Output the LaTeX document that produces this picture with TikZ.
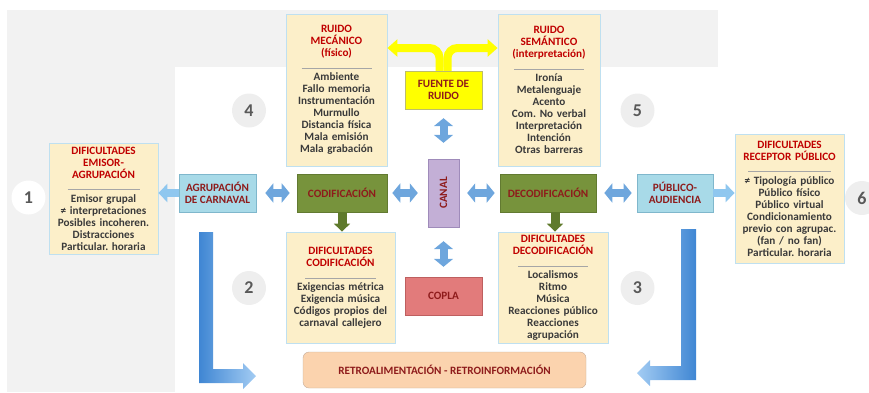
\documentclass[tikz,border=0pt]{standalone}
\usepackage{fontspec}
\setmainfont{Carlito}
\usepackage{xcolor}
\usepackage{graphicx}
\usepackage{tikz}
\usetikzlibrary{arrows.meta, shadings}
\frenchspacing

\definecolor{cream}{HTML}{FCEFC9}
\definecolor{paleblue}{HTML}{BFE0F0}
\definecolor{titlered}{HTML}{C00000}
\definecolor{labelred}{HTML}{8E1B1B}
\definecolor{bodygray}{HTML}{3A3A3A}
\definecolor{rulegray}{HTML}{A6A6A6}
\definecolor{bggray}{HTML}{F2F2F2}
\definecolor{circgray}{HTML}{EEEEEE}
\definecolor{numgray}{HTML}{595959}
\definecolor{tagblue}{HTML}{A8DAE8}
\definecolor{tagedge}{HTML}{7FB7CC}
\definecolor{codgreen}{HTML}{77933C}
\definecolor{codedge}{HTML}{627A31}
\definecolor{arrowgreen}{HTML}{5F7A2C}
\definecolor{canalpurple}{HTML}{C3AFD6}
\definecolor{canaledge}{HTML}{9F8BBA}
\definecolor{coplared}{HTML}{E27B7B}
\definecolor{coplaedge}{HTML}{BE5F5F}
\definecolor{noiseyellow}{HTML}{FFFF00}
\definecolor{noiseedge}{HTML}{BDBD6A}
\definecolor{retropeach}{HTML}{FBD3AE}
\definecolor{retroedge}{HTML}{C3AC9A}
\definecolor{linkblue}{HTML}{6EA6DD}
\definecolor{sideblue}{HTML}{8FC7EF}
\definecolor{feeddark}{HTML}{3F86D3}
\definecolor{feedlight}{HTML}{A3CCF3}

\tikzset{
    every node/.style = {font = \bfseries\fontsize{11.2}{12}\selectfont},
    difbox/.style = {draw = paleblue, fill = cream, line width = .8pt, align = center, text = titlered, inner sep = 0pt},
    tagbox/.style = {draw = tagedge, fill = tagblue, line width = .6pt, align = center, text = labelred, minimum width = 77pt, minimum height = 38pt},
    codbox/.style = {draw = codedge, fill = codgreen, line width = .6pt, text = labelred, minimum height = 38pt},
    numcircle/.style = {circle, fill = circgray, text = numgray, minimum size = 34pt, inner sep = 0pt, font = \bfseries\fontsize{18}{18}\selectfont},
    linkarrow/.style = {draw = linkblue, line width = 8pt, {Triangle[width = 19pt, length = 8pt]}-{Triangle[width = 19pt, length = 8pt]}},
    sidearrow/.style = {draw = sideblue, line width = 8pt, -{Triangle[width = 18pt, length = 9pt]}},
    downarrow/.style = {draw = arrowgreen, line width = 9pt, -{Triangle[width = 16pt, length = 8pt]}},
    noisearrow/.style = {draw = noiseyellow, line width = 8pt, rounded corners = 10pt, -{Triangle[width = 17pt, length = 10pt]}},
}

\newcommand{\seprule}[1]{{\color{rulegray}\rule{#1}{.7pt}}}

\begin{document}
\begin{tikzpicture}[x = 1pt, y = -1pt]
    \useasboundingbox (0, 0) rectangle (869, 392);

    \fill [bggray] (7, 10) rectangle (718, 67);
    \fill [bggray] (7, 67) rectangle (175, 392);

    \shade [left color = feeddark, right color = feedlight] (199, 232) -- (213, 232) -- (213, 369) -- (243, 369) -- (243, 363) -- (256, 376) -- (243, 389) -- (243, 383) -- (199, 383) -- cycle;
    \shade [left color = feedlight, right color = feeddark] (681, 229) -- (696, 229) -- (696, 380) -- (650, 380) -- (650, 386) -- (637, 373) -- (650, 360) -- (650, 366) -- (681, 366) -- cycle;

    \node [numcircle, fill = white] (n1) at (28.5, 197.5) {1};
    \node [numcircle] (n2) at (249, 288) {2};
    \node [numcircle] (n3) at (637.5, 288) {3};
    \node [numcircle] (n4) at (249, 110.5) {4};
    \node [numcircle] (n5) at (637.5, 110.5) {5};
    \node [numcircle] (n6) at (862, 198) {6};

    \node [difbox, text width = 101pt, minimum height = 152pt] (mecan) at (336.5, 90) {RUIDO\\MECÁNICO\\(físico)\\ \seprule{70pt}\\ \color{bodygray}Ambiente\\Fallo memoria\\Instrumentación\\Murmullo\\Distancia física\\Mala emisión\\Mala grabación};
    \node [difbox, text width = 102pt, minimum height = 152pt] (seman) at (549, 90) {RUIDO\\SEMÁNTICO\\(interpretación)\\ \seprule{70pt}\\ \color{bodygray}Ironía\\Metalenguaje\\Acento\\Com. No verbal\\Interpretación\\Intención\\Otras barreras};
    \node [difbox, text width = 109pt, minimum height = 111pt] (emisor) at (103.5, 198.5) {DIFICULTADES\\EMISOR-\\AGRUPACIÓN\\ \seprule{72pt}\\ \color{bodygray}Emisor grupal\\≠ interpretaciones\\Posibles incoheren.\\Distracciones\\Particular. horaria};
    \node [difbox, text width = 109pt, minimum height = 129pt] (receptor) at (789.5, 198.5) {DIFICULTADES\\RECEPTOR PÚBLICO\\ \seprule{83pt}\\ \color{bodygray}≠ Tipología público\\Público físico\\Público virtual\\Condicionamiento\\previo con agrupac.\\(fan / no fan)\\Particular. horaria};
    \node [difbox, text width = 109pt, minimum height = 111pt] (difcod) at (340.5, 287.5) {DIFICULTADES\\CODIFICACIÓN\\ \seprule{71pt}\\ \color{bodygray}Exigencias métrica\\Exigencia música\\Códigos propios del\\carnaval callejero};
    \node [difbox, text width = 110pt, minimum height = 111pt] (difdec) at (553, 287.5) {DIFICULTADES\\DECODIFICACIÓN\\ \seprule{70pt}\\ \color{bodygray}Localismos\\Ritmo\\Música\\Reacciones público\\Reacciones\\agrupación};

    \node [draw = noiseedge, fill = noiseyellow, align = center, minimum width = 77pt, minimum height = 38pt, text = labelred] (fuente) at (443.5, 90) {FUENTE DE\\RUIDO};
    \node [draw = canaledge, fill = canalpurple, minimum width = 31pt, minimum height = 68pt, text = labelred] (canal) at (443.5, 193) {\rotatebox{90}{CANAL}};
    \node [draw = coplaedge, fill = coplared, minimum width = 77pt, minimum height = 38pt, text = labelred] (copla) at (443.5, 296) {COPLA};
    \node [tagbox] (agrup) at (217.5, 193) {AGRUPACIÓN\\DE CARNAVAL};
    \node [tagbox, minimum width = 76pt] (public) at (675, 193) {PÚBLICO-\\AUDIENCIA};
    \node [codbox, minimum width = 90pt] (codif) at (342, 193) {CODIFICACIÓN};
    \node [codbox, minimum width = 96pt] (decod) at (548, 193) {DECODIFICACIÓN};
    \node [draw = retroedge, fill = retropeach, rounded corners = 6pt, minimum width = 283pt, minimum height = 36pt, text = labelred] (retro) at (444.5, 370) {RETROALIMENTACIÓN - RETROINFORMACIÓN};

    \coordinate (fork) at (443.5, 48);
    \draw [noisearrow] ([xshift = -4pt]fuente.north) |- (mecan.east |- fork);
    \draw [noisearrow] ([xshift = 4pt]fuente.north) |- (seman.west |- fork);

    \draw [linkarrow, shorten <= 9pt, shorten >= 7pt] (agrup) -- (codif);
    \draw [linkarrow, shorten <= 5pt, shorten >= 10pt] (codif) -- (canal);
    \draw [linkarrow, shorten <= 8pt, shorten >= 5pt] (canal) -- (decod);
    \draw [linkarrow, shorten <= 8pt, shorten >= 5pt] (decod) -- (public);
    \draw [linkarrow, shorten <= 9pt, shorten >= 16pt] (fuente) -- (canal);
    \draw [linkarrow, shorten <= 14pt, shorten >= 10pt] (canal) -- (copla);

    \draw [sidearrow] (agrup.west) -- (agrup.west -| emisor.east);
    \draw [sidearrow] (public.east) -- (public.east -| receptor.west);

    \draw [downarrow] (codif.south) -- (codif.south |- difcod.north);
    \draw [downarrow] ([xshift = 7pt]decod.south) -- ([xshift = 7pt]decod.south |- difdec.north);
\end{tikzpicture}
\end{document}
